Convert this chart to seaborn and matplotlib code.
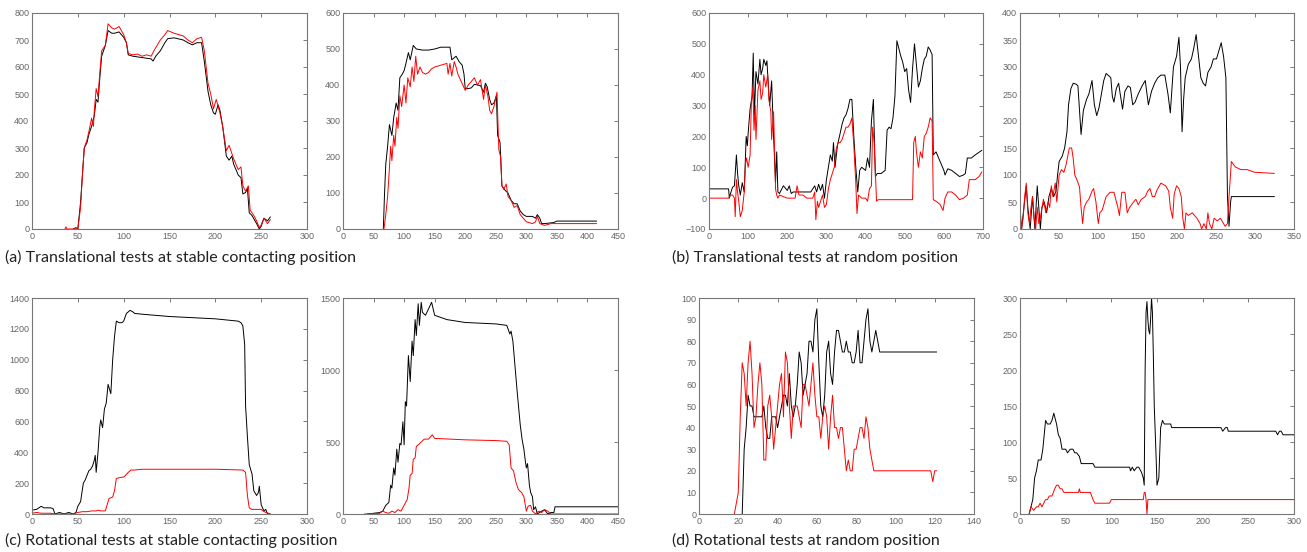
import numpy as np
import pandas as pd
import matplotlib
matplotlib.use("Agg")
import matplotlib.pyplot as plt
import seaborn as sns

A1_BLACK = [(45, 0), (48, 5), (50, 0), (53, 100), (55, 200), (57, 300), (60, 320), (62, 350), (65, 380),
            (68, 420), (70, 480), (72, 470), (74, 560), (76, 640), (80, 680), (83, 735), (87, 725), (90, 725),
            (95, 730), (100, 710), (103, 690), (105, 645), (110, 640), (120, 635), (130, 630), (132, 622),
            (135, 640), (140, 660), (145, 690), (148, 705), (155, 708), (165, 700), (170, 690), (175, 682),
            (180, 690), (185, 690), (188, 620), (192, 510), (195, 460), (198, 430), (200, 425), (203, 460),
            (205, 440), (208, 380), (212, 270), (215, 255), (218, 270), (220, 240), (225, 200), (228, 190),
            (230, 130), (233, 135), (235, 150), (237, 60), (240, 50), (245, 20), (248, 0), (250, 10),
            (253, 40), (257, 30), (260, 45)]
A1_RED = [(36, 0), (37, 8), (38, 0), (45, 0), (50, 0), (53, 80), (55, 200), (57, 300), (60, 330), (62, 360),
          (65, 410), (67, 380), (68, 440), (70, 520), (72, 490), (74, 580), (76, 660), (80, 680), (83, 760),
          (87, 745), (90, 740), (95, 750), (100, 720), (103, 690), (105, 650), (110, 645), (115, 648),
          (120, 640), (125, 645), (130, 640), (133, 660), (140, 700), (145, 720), (148, 735), (155, 725),
          (165, 715), (170, 700), (175, 690), (180, 705), (185, 710), (188, 660), (192, 540), (195, 500),
          (198, 445), (201, 480), (205, 430), (208, 380), (212, 290), (215, 310), (218, 280), (220, 260),
          (225, 220), (228, 230), (230, 160), (233, 140), (236, 160), (238, 70), (242, 50), (245, 30),
          (248, 5), (250, 15), (253, 40), (257, 20), (260, 35)]

A2_BLACK = [(66, 0), (68, 100), (70, 180), (73, 230), (76, 290), (80, 260), (83, 310), (87, 350), (90, 330),
            (93, 420), (97, 430), (100, 440), (103, 460), (107, 490), (110, 470), (115, 510), (120, 500),
            (130, 497), (140, 497), (150, 500), (160, 505), (175, 505), (178, 470), (185, 480), (190, 465),
            (195, 455), (198, 430), (200, 390), (205, 390), (210, 392), (215, 402), (220, 400), (225, 398),
            (230, 380), (233, 405), (236, 395), (240, 360), (243, 345), (247, 350), (251, 370), (253, 260),
            (257, 240), (260, 120), (265, 108), (270, 100), (275, 80), (280, 70), (285, 70), (290, 50),
            (295, 40), (300, 35), (310, 35), (315, 30), (318, 40), (322, 30), (325, 15), (330, 15),
            (345, 18), (350, 22), (415, 22)]
A2_RED = [(67, 0), (70, 40), (73, 90), (76, 170), (78, 230), (80, 190), (83, 260), (85, 230), (88, 310),
          (90, 280), (93, 370), (96, 340), (100, 400), (103, 350), (106, 420), (110, 395), (113, 450),
          (116, 410), (119, 480), (122, 430), (126, 450), (130, 435), (135, 430), (140, 435), (145, 445),
          (150, 450), (160, 455), (170, 460), (172, 430), (175, 460), (178, 425), (182, 465), (185, 450),
          (188, 430), (192, 415), (196, 400), (200, 385), (205, 400), (215, 420), (220, 400), (225, 415),
          (230, 360), (233, 400), (237, 370), (240, 330), (243, 320), (247, 340), (252, 380), (255, 220),
          (258, 200), (260, 120), (263, 110), (267, 125), (270, 90), (275, 80), (280, 60), (285, 65),
          (290, 40), (295, 30), (300, 20), (310, 15), (315, 20), (318, 35), (322, 15), (330, 10),
          (340, 15), (415, 15)]

B1_BLACK = [(0, 30), (50, 30), (52, 0), (55, 15), (60, 35), (65, 40), (70, 140), (73, 80), (76, 40), (80, 10),
            (85, 50), (90, 20), (95, 200), (98, 170), (100, 210), (105, 290), (110, 330), (113, 470),
            (116, 270), (120, 410), (125, 370), (130, 450), (133, 400), (137, 420), (140, 450), (145, 430),
            (148, 445), (150, 400), (155, 300), (160, 380), (165, 200), (170, 50), (173, 150), (176, 20),
            (180, 15), (190, 40), (200, 25), (205, 40), (210, 15), (215, 20), (260, 20), (270, 40),
            (275, 20), (280, 45), (285, 25), (290, 45), (295, 0), (300, 60), (305, 100), (310, 140),
            (315, 120), (318, 180), (322, 100), (328, 170), (335, 210), (340, 240), (345, 260), (350, 270),
            (355, 290), (360, 320), (365, 320), (370, 200), (375, 100), (380, 20), (385, 90), (390, 100),
            (395, 95), (400, 90), (405, 130), (410, 100), (415, 250), (420, 320), (425, 70), (430, 80),
            (440, 80), (450, 90), (455, 220), (460, 230), (465, 225), (470, 260), (475, 330), (480, 510),
            (490, 460), (495, 440), (500, 410), (505, 420), (510, 350), (515, 310), (520, 420), (525, 500),
            (530, 430), (535, 360), (540, 380), (545, 420), (550, 450), (555, 460), (560, 490), (565, 480),
            (570, 465), (573, 140), (580, 150), (590, 120), (600, 90), (603, 75), (610, 95), (620, 90),
            (630, 80), (640, 70), (650, 75), (655, 80), (660, 130), (670, 130), (680, 140), (697, 155)]
B1_RED = [(0, 0), (50, 0), (55, 10), (60, 10), (65, 0), (67, -60), (70, 60), (73, 20), (76, -10), (80, -60),
          (85, -40), (90, 20), (93, 110), (96, 130), (100, 100), (105, 140), (108, 300), (112, 360),
          (115, 220), (118, 300), (120, 190), (125, 350), (130, 380), (133, 320), (137, 340), (140, 400),
          (145, 360), (150, 400), (153, 320), (158, 280), (160, 190), (165, 280), (170, 30), (173, 10),
          (176, 0), (180, 10), (200, 0), (220, 0), (225, 40), (230, 10), (240, 10), (250, 0), (265, 0),
          (270, 20), (273, -70), (277, -10), (280, -30), (285, -10), (290, 10), (295, -30), (300, -20),
          (305, 30), (310, 60), (315, 80), (320, 100), (325, 160), (330, 180), (335, 180), (340, 190),
          (350, 230), (355, 230), (360, 240), (365, 260), (370, 170), (375, 50), (378, -50), (382, 10),
          (390, 0), (400, 0), (405, -10), (410, 30), (415, 40), (418, 230), (422, 180), (428, -10),
          (432, -5), (520, -5), (523, 180), (527, 200), (530, 150), (535, 100), (540, 150), (545, 130),
          (550, 200), (555, 210), (560, 230), (565, 260), (570, 250), (573, -5), (580, -10), (590, -20),
          (598, -40), (603, 0), (610, 20), (620, 20), (630, 10), (640, -5), (650, 0), (660, 10), (665, 60),
          (670, 60), (680, 60), (690, 70), (697, 85)]

B2_BLACK = [(0, 30), (2, 0), (5, 40), (8, 80), (10, 40), (13, 0), (16, 60), (19, 0), (22, 80), (24, 40),
            (26, 0), (28, 40), (31, 50), (34, 30), (37, 60), (40, 75), (43, 60), (46, 70), (48, 100),
            (50, 125), (54, 135), (57, 150), (60, 180), (62, 230), (65, 260), (68, 270), (72, 268), (74, 265),
            (76, 220), (78, 175), (81, 220), (85, 240), (88, 250), (92, 275), (95, 230), (98, 210), (101, 225),
            (104, 250), (107, 275), (110, 288), (114, 283), (116, 280), (118, 245), (120, 235), (123, 260),
            (126, 270), (128, 250), (131, 222), (134, 255), (138, 265), (141, 262), (144, 230), (147, 235),
            (151, 250), (156, 265), (160, 275), (164, 230), (168, 255), (172, 270), (176, 280), (180, 285),
            (185, 285), (189, 250), (192, 215), (196, 300), (200, 320), (203, 355), (205, 300), (207, 180),
            (209, 240), (211, 280), (215, 305), (219, 315), (222, 335), (225, 360), (228, 320), (231, 280),
            (234, 270), (237, 265), (240, 290), (244, 300), (247, 315), (251, 315), (254, 330), (257, 345),
            (260, 320), (263, 280), (265, 60), (267, 5), (269, 50), (270, 60), (325, 60)]
B2_RED = [(0, 40), (2, 0), (4, 20), (6, 60), (8, 85), (10, 30), (12, 10), (14, 40), (16, 60), (18, 20),
          (20, 0), (22, 40), (24, 10), (26, 20), (28, 40), (30, 55), (33, 30), (36, 50), (38, 40), (40, 80),
          (42, 60), (45, 85), (47, 50), (50, 100), (53, 110), (56, 105), (59, 120), (61, 135), (63, 150),
          (66, 150), (68, 130), (70, 100), (73, 90), (76, 78), (78, 40), (80, 10), (82, 40), (85, 50),
          (88, 55), (92, 70), (94, 75), (97, 50), (100, 10), (102, 30), (105, 35), (110, 60), (115, 68),
          (120, 68), (125, 40), (127, 25), (130, 68), (134, 68), (137, 30), (140, 40), (145, 50), (148, 55),
          (151, 45), (155, 55), (160, 60), (163, 70), (166, 75), (169, 60), (172, 60), (175, 72), (180, 85),
          (186, 80), (190, 70), (192, 40), (195, 20), (197, 65), (200, 80), (203, 75), (206, 60), (208, 20),
          (210, 0), (212, 30), (215, 25), (220, 30), (223, 25), (226, 20), (230, 10), (232, 0), (235, 10),
          (238, 0), (240, 30), (242, 10), (245, 0), (248, 20), (252, 15), (256, 20), (260, 10), (262, 5),
          (265, 10), (267, 60), (270, 125), (275, 115), (282, 110), (290, 110), (300, 105), (325, 103)]

C1_BLACK = [(0, 25), (5, 30), (10, 50), (13, 40), (20, 40), (23, 35), (25, 0), (30, 10), (35, 0), (40, 10),
            (45, 0), (48, 10), (50, 50), (53, 80), (56, 200), (58, 220), (60, 250), (62, 280), (64, 290),
            (66, 310), (68, 350), (69, 380), (70, 270), (72, 400), (74, 570), (75, 610), (77, 560), (79, 680),
            (81, 720), (83, 840), (85, 800), (86, 780), (88, 1000), (90, 1150), (92, 1250), (95, 1240),
            (98, 1240), (100, 1250), (103, 1300), (107, 1320), (110, 1310), (112, 1300), (120, 1295),
            (150, 1280), (200, 1265), (225, 1250), (228, 1240), (230, 1220), (232, 1100), (233, 700),
            (235, 500), (237, 320), (240, 260), (242, 150), (245, 120), (247, 140), (248, 180), (250, 60),
            (253, 20), (255, 30), (257, 0), (260, 0)]
C1_RED = [(0, 5), (5, 10), (10, 5), (20, 5), (25, 0), (45, 0), (50, 10), (55, 15), (60, 15), (65, 20),
          (70, 20), (72, 25), (75, 20), (80, 20), (82, 60), (84, 100), (88, 110), (90, 150), (92, 230),
          (95, 235), (100, 240), (102, 250), (105, 270), (108, 285), (112, 285), (120, 290), (150, 290),
          (200, 290), (230, 285), (233, 270), (235, 120), (237, 40), (240, 30), (250, 30), (252, 20),
          (255, 10), (258, 5), (260, 0)]

C2_BLACK = [(40, 0), (50, 5), (60, 10), (65, 20), (70, 60), (75, 80), (78, 200), (80, 180), (83, 320),
            (85, 270), (88, 450), (90, 360), (93, 490), (95, 480), (98, 640), (100, 480), (102, 780),
            (104, 750), (107, 1100), (110, 920), (113, 1200), (115, 1100), (118, 1350), (120, 1240),
            (123, 1460), (125, 1310), (128, 1470), (130, 1400), (135, 1380), (145, 1470), (150, 1380),
            (170, 1350), (200, 1330), (250, 1320), (268, 1310), (273, 1250), (275, 1270), (278, 1200),
            (282, 1000), (285, 850), (290, 620), (293, 520), (296, 450), (298, 380), (300, 320), (302, 350),
            (305, 200), (307, 150), (310, 120), (312, 30), (315, 50), (318, 0), (325, 20), (330, 30),
            (335, 0), (340, 10), (345, 10), (347, 50), (450, 50)]
C2_RED = [(35, 0), (60, 5), (65, 20), (70, 10), (75, 5), (80, 20), (85, 10), (90, 30), (95, 20), (100, 60),
          (105, 100), (108, 180), (110, 270), (113, 280), (115, 380), (118, 390), (120, 470), (123, 480),
          (128, 500), (133, 520), (140, 520), (146, 550), (150, 525), (200, 515), (250, 510), (268, 505),
          (272, 480), (275, 320), (279, 300), (283, 220), (287, 170), (292, 150), (296, 120), (300, 20),
          (303, 55), (307, 60), (310, 20), (315, 0), (320, 20), (325, 10), (330, 30), (335, 20),
          (340, 0), (450, 0)]

D1_BLACK = [(22, 0), (23, 30), (24, 40), (25, 55), (26, 50), (27, 50), (28, 45), (32, 45), (33, 50),
            (34, 40), (35, 35), (36, 35), (37, 45), (39, 45), (40, 40), (41, 45), (42, 50), (43, 55),
            (44, 55), (45, 50), (46, 65), (47, 50), (48, 45), (49, 50), (50, 60), (51, 75), (52, 70),
            (53, 55), (55, 65), (56, 80), (57, 80), (58, 75), (59, 90), (60, 95), (61, 70), (62, 50),
            (63, 45), (64, 55), (65, 75), (66, 80), (67, 65), (68, 60), (69, 75), (70, 85), (71, 85),
            (72, 80), (73, 75), (74, 75), (75, 80), (76, 75), (77, 75), (78, 70), (79, 70), (80, 75),
            (81, 85), (82, 70), (83, 70), (84, 80), (85, 90), (86, 95), (87, 80), (88, 75), (89, 80),
            (90, 85), (91, 80), (92, 75), (121, 75)]
D1_RED = [(18, 0), (19, 5), (20, 10), (21, 45), (22, 70), (23, 65), (24, 50), (25, 70), (26, 80), (27, 65),
          (28, 40), (29, 45), (30, 60), (31, 70), (32, 60), (33, 25), (34, 25), (35, 50), (36, 55), (37, 45),
          (38, 30), (39, 40), (40, 50), (41, 60), (42, 65), (43, 45), (44, 75), (45, 70), (46, 50), (47, 35),
          (48, 50), (50, 50), (51, 45), (52, 40), (53, 60), (54, 60), (55, 55), (56, 50), (57, 60), (58, 70),
          (59, 55), (60, 45), (61, 45), (62, 35), (63, 45), (64, 50), (65, 45), (66, 30), (67, 45), (68, 55),
          (69, 40), (70, 40), (71, 35), (72, 40), (73, 40), (74, 30), (75, 20), (76, 25), (77, 20), (78, 20),
          (79, 30), (80, 30), (81, 35), (82, 40), (83, 40), (84, 35), (85, 45), (86, 40), (87, 30), (88, 25),
          (89, 20), (90, 20), (118, 20), (119, 15), (120, 20), (121, 20)]

D2_BLACK = [(10, 0), (12, 10), (14, 20), (16, 50), (18, 60), (20, 75), (23, 75), (25, 90), (28, 130), (30, 125),
            (33, 125), (35, 130), (37, 140), (40, 125), (42, 110), (44, 105), (46, 90), (50, 90), (52, 85),
            (55, 90), (58, 90), (60, 85), (62, 85), (65, 80), (67, 70), (80, 70), (82, 65), (120, 65),
            (121, 60), (123, 65), (125, 60), (128, 65), (130, 65), (133, 58), (135, 50), (136, 40), (137, 200),
            (138, 280), (139, 295), (140, 270), (141, 255), (142, 250), (143, 270), (144, 300), (145, 280),
            (146, 220), (147, 150), (149, 80), (150, 40), (152, 50), (154, 120), (156, 130), (158, 125),
            (165, 125), (166, 120), (220, 120), (222, 115), (225, 120), (227, 120), (228, 115), (280, 115),
            (282, 110), (284, 115), (286, 115), (288, 110), (300, 110)]
D2_RED = [(10, 0), (12, 10), (15, 5), (18, 10), (20, 10), (22, 15), (24, 10), (26, 15), (28, 20), (30, 20),
          (32, 25), (35, 25), (38, 35), (40, 40), (42, 40), (44, 35), (46, 35), (48, 30), (64, 30), (65, 35),
          (66, 30), (77, 30), (80, 20), (82, 15), (98, 15), (100, 20), (135, 20), (136, 30), (137, 30),
          (138, 20), (139, 0), (140, 20), (300, 20)]

CAPTIONS = ["(a) Translational tests at stable contacting position",
            "(b) Translational tests at random position",
            "(c) Rotational tests at stable contacting position",
            "(d) Rotational tests at random position"]

sns.set_theme(style="white")
plt.rcParams.update({
    "xtick.direction": "in", "ytick.direction": "in",
    "xtick.top": True, "ytick.right": True,
    "xtick.major.size": 3, "ytick.major.size": 3,
    "xtick.major.width": 0.6, "ytick.major.width": 0.6,
    "xtick.color": "#666666", "ytick.color": "#666666",
    "xtick.labelsize": 6.5, "ytick.labelsize": 6.5,
    "xtick.major.pad": 2, "ytick.major.pad": 2,
    "axes.edgecolor": "#777777", "axes.linewidth": 0.8,
})
plt.rcParams["font.family"] = ["Liberation Sans", "DejaVu Sans"]

W, H = 1307, 552
fig = plt.figure(figsize=(W / 100, H / 100), dpi=100)


def box(left, top, right, bottom):
    return [left / W, 1 - bottom / H, (right - left) / W, (bottom - top) / H]


panels = [
    (box(32, 13, 307, 229), A1_BLACK, A1_RED, (0, 300, 50), (0, 800, 100)),
    (box(343, 13, 618, 229), A2_BLACK, A2_RED, (0, 450, 50), (0, 600, 100)),
    (box(709, 13, 983, 229), B1_BLACK, B1_RED, (0, 700, 100), (-100, 600, 100)),
    (box(1020, 13, 1294, 229), B2_BLACK, B2_RED, (0, 350, 50), (0, 400, 50)),
    (box(32, 298, 307, 514), C1_BLACK, C1_RED, (0, 300, 50), (0, 1400, 200)),
    (box(343, 298, 618, 514), C2_BLACK, C2_RED, (0, 450, 50), (0, 1500, 500)),
    (box(699, 298, 974, 514), D1_BLACK, D1_RED, (0, 140, 20), (0, 100, 10)),
    (box(1020, 298, 1294, 514), D2_BLACK, D2_RED, (0, 300, 50), (0, 300, 50)),
]

for rect, black, red, xr, yr in panels:
    ax = fig.add_axes(rect)
    for trace, colour in [(black, "black"), (red, "red")]:
        df = pd.DataFrame(trace, columns=["step", "force"])
        sns.lineplot(data=df, x="step", y="force", ax=ax, color=colour, lw=0.7,
                     sort=False, estimator=None)
    ax.set_xlim(xr[0], xr[1])
    ax.set_ylim(yr[0], yr[1])
    ax.set_xticks(np.arange(xr[0], xr[1] + 1, xr[2]))
    ax.set_yticks(np.arange(yr[0], yr[1] + 1, yr[2]))
    ax.set_xlabel("")
    ax.set_ylabel("")

cap_pos = [(5, 257), (672, 257), (5, 540), (672, 540)]
for text, (px, py) in zip(CAPTIONS, cap_pos):
    fig.text(px / W, 1 - py / H, text, fontsize=11.5, va="center", ha="left",
             family=["Lato", "DejaVu Sans"], color="#222222")

fig.savefig("out.png", dpi=100)
